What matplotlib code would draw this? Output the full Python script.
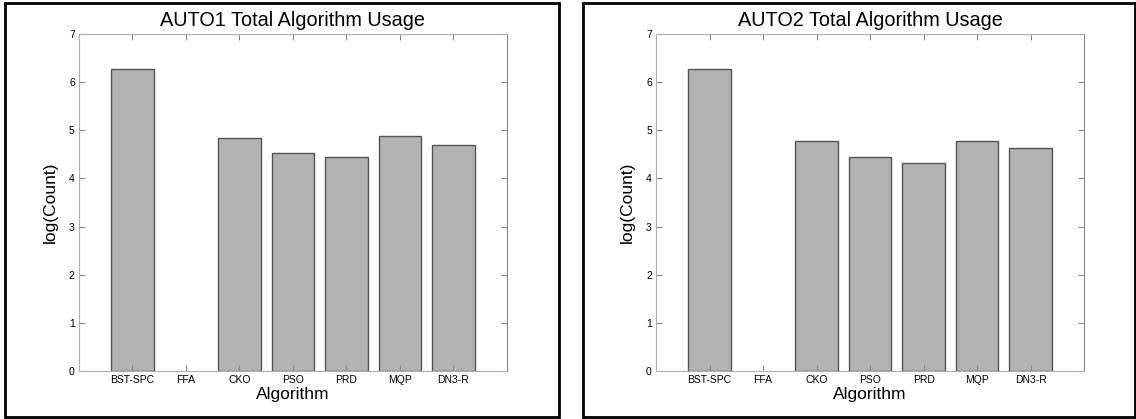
import numpy as np
import matplotlib.pyplot as plt
from matplotlib.patches import Rectangle

plt.rcParams['font.family'] = ['Liberation Sans', 'DejaVu Sans']

# data
algorithms = ["BST-SPC", "FFA", "CKO", "PSO", "PRD", "MQP", "DN3-R"]
auto1_log = [6.28, 0.0, 4.84, 4.52, 4.44, 4.88, 4.70]
auto2_log = [6.28, 0.0, 4.78, 4.44, 4.33, 4.78, 4.63]
titles = ["AUTO1 Total Algorithm Usage", "AUTO2 Total Algorithm Usage"]

fig = plt.figure(figsize=(11.36, 4.19), dpi=100)

# black frames around each panel
for x0, w in [(0.0044, 0.4877), (0.5132, 0.4859)]:
    fig.patches.append(Rectangle((x0, 0.005), w, 0.988, transform=fig.transFigure,
                                 fill=False, edgecolor='black', linewidth=2))

axes_left = [0.0695, 0.5775]
for left, vals, title in zip(axes_left, [auto1_log, auto2_log], titles):
    ax = fig.add_axes([left, 0.1146, 0.3768, 0.8043])
    x = np.arange(1, len(algorithms) + 1)
    edges = ['#555555' if v > 0 else 'none' for v in vals]
    ax.bar(x, vals, width=0.8, color='#b3b3b3', edgecolor=edges, linewidth=1)
    ax.set_xlim(0, 8)
    ax.set_ylim(0, 7)
    ax.set_xticks(x)
    ax.set_xticklabels(algorithms, fontsize=7.5)
    ax.set_yticks(range(0, 8))
    ax.tick_params(axis='y', labelsize=7.5)
    ax.tick_params(direction='in', top=True, right=True, length=4, color='#888888', pad=3)
    for s in ax.spines.values():
        s.set_color('#b0b0b0')
    ax.spines['right'].set_color('#888888')
    ax.set_title(title, fontsize=14.3, pad=6)
    ax.set_xlabel("Algorithm", fontsize=12.5, labelpad=1)
    ax.set_ylabel("log(Count)", fontsize=12.5, labelpad=8)

plt.savefig("out.png", dpi=100)
